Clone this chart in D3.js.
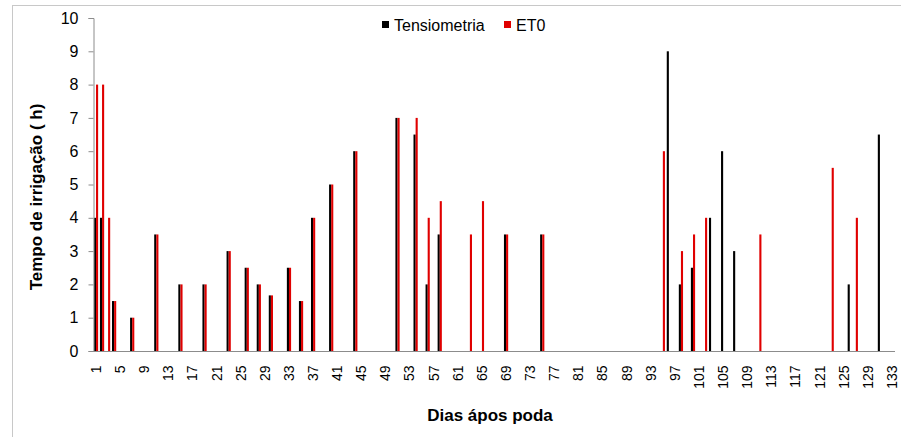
<!DOCTYPE html>
<html>
<head>
<meta charset="utf-8">
<script src="https://cdn.jsdelivr.net/npm/d3@7"></script>
<style>
  body { margin: 0; background: #fff; }
  svg { display: block; font-family: Arial, "Liberation Sans", sans-serif; }
</style>
</head>
<body>
<div id="graph"></div>
<script>
/* Data */
const days = [1, 2, 3, 4, 7, 11, 15, 19, 23, 26, 28, 30, 33, 35, 37, 40, 44, 51, 54, 56, 58, 63, 65, 69, 75, 95, 96, 98, 100, 102, 103, 105, 107, 111, 123, 126, 127, 131];
const tensiometria = [4, 4, 0, 1.5, 1, 3.5, 2, 2, 3, 2.5, 2, 1.67, 2.5, 1.5, 4, 5, 6, 7, 6.5, 2, 3.5, 0, 0, 3.5, 3.5, 0, 9, 2, 2.5, 0, 4, 6, 3, 0, 0, 2, 0, 6.5];
const et0 = [8, 8, 4, 1.5, 1, 3.5, 2, 2, 3, 2.5, 2, 1.67, 2.5, 1.5, 4, 5, 6, 7, 7, 4, 4.5, 3.5, 4.5, 3.5, 3.5, 6, 0, 3, 3.5, 4, 0, 0, 0, 3.5, 5.5, 0, 4, 0];
const xTickLabels = [1, 5, 9, 13, 17, 21, 25, 29, 33, 37, 41, 45, 49, 53, 57, 61, 65, 69, 73, 77, 81, 85, 89, 93, 97, 101, 105, 109, 113, 117, 121, 125, 129, 133];
const yTickLabels = [0, 1, 2, 3, 4, 5, 6, 7, 8, 9, 10];
const seriesNames = ["Tensiometria", "ET0"];

const W = 901, H = 437;
const PL = 93, PR = 895, PT = 18, PB = 351;
const colors = { "Tensiometria": "#000000", "ET0": "#e00000" };
const axisColor = "#8c8c8c";

const svg = d3.select("#graph").append("svg").attr("width", W).attr("height", H);

/* chart border */
svg.append("rect")
    .attr("x", 12.5).attr("y", 5.5)
    .attr("width", 900).attr("height", 460)
    .attr("fill", "none").attr("stroke", "#c8c8c8");

/* scales */
const allDays = d3.range(1, 134);
const xScale = d3.scaleBand().domain(allDays).range([PL, PR])
    .paddingInner(0.3).paddingOuter(0.15);
const xInner = d3.scaleBand().domain(seriesNames).range([0, xScale.bandwidth()]);
const yScale = d3.scaleLinear().domain([0, 10]).range([PB, PT]);

const rows = days.map((d, i) => ({ day: d, "Tensiometria": tensiometria[i], "ET0": et0[i] }));

/* bars */
const groups = svg.append("g").selectAll("g")
    .data(rows)
    .enter()
    .append("g")
    .attr("transform", d => "translate(" + xScale(d.day) + ",0)");

groups.selectAll("rect")
    .data(d => seriesNames.map(s => ({ key: s, value: d[s] })).filter(v => v.value > 0))
    .enter()
    .append("rect")
    .attr("x", d => xInner(d.key))
    .attr("width", xInner.bandwidth())
    .attr("y", d => yScale(d.value))
    .attr("height", d => PB - yScale(d.value))
    .attr("fill", d => colors[d.key]);

/* Y axis */
const yAxis = d3.axisLeft(yScale).tickValues(yTickLabels).tickSize(5).tickPadding(10).tickFormat(d3.format("d"));
const gy = svg.append("g")
    .attr("transform", "translate(" + (PL + 0.5) + ",0)")
    .call(yAxis);
gy.select(".domain").attr("stroke", axisColor);
gy.selectAll(".tick line").attr("stroke", axisColor);
gy.selectAll(".tick text").attr("fill", "#000").style("font-size", "16px")
    .attr("font-family", "Arial, 'Liberation Sans', sans-serif");

/* X axis */
const xAxis = d3.axisBottom(xScale).tickValues(xTickLabels).tickSize(0).tickPadding(0);
const gx = svg.append("g")
    .attr("transform", "translate(0," + (PB + 0.5) + ")")
    .call(xAxis);
gx.select(".domain").attr("stroke", axisColor).attr("d", "M" + PL + ",0H" + PR);
gx.selectAll(".tick text")
    .attr("fill", "#000")
    .style("font-size", "14px")
    .attr("font-family", "Arial, 'Liberation Sans', sans-serif")
    .attr("transform", "rotate(-90)")
    .attr("text-anchor", "end")
    .attr("x", -14)
    .attr("y", 0)
    .attr("dy", "0.35em");

/* axis titles */
svg.append("text")
    .attr("transform", "translate(42,197) rotate(-90)")
    .attr("text-anchor", "middle")
    .style("font-size", "17px")
    .style("font-weight", "bold")
    .text("Tempo de irrigação ( h)");

svg.append("text")
    .attr("x", 490).attr("y", 421)
    .attr("text-anchor", "middle")
    .style("font-size", "17px")
    .style("font-weight", "bold")
    .text("Dias ápos poda");

/* legend */
const legendX = [382, 504];
const legend = svg.append("g").selectAll("g")
    .data(seriesNames)
    .enter()
    .append("g")
    .attr("transform", (d, i) => "translate(" + legendX[i] + ",21)");
legend.append("rect")
    .attr("width", 7).attr("height", 7)
    .attr("fill", d => colors[d]);
legend.append("text")
    .attr("x", 12).attr("y", 10)
    .style("font-size", "16px")
    .text(d => d);
</script>
</body>
</html>
